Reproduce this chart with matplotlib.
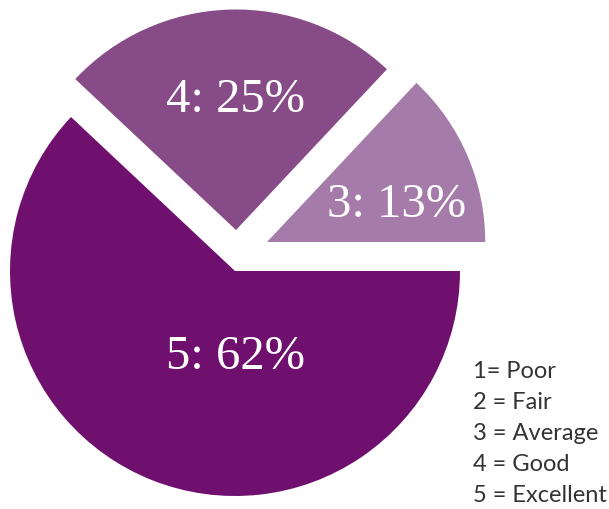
import matplotlib
matplotlib.use("Agg")
import matplotlib.pyplot as plt

# ── data ──────────────────────────────────────────────────────────────────────
ratings = ["3", "4", "5"]
shares = [13, 25, 62]
legend_lines = ["1= Poor", "2 = Fair", "3 = Average", "4 = Good", "5 = Excellent"]

# ── style ─────────────────────────────────────────────────────────────────────
COLORS = ["#a57ba9", "#874b87", "#6f106f"]
CENTER = (235, 238)          # pixel coords, origin bottom-left
RADIUS = 225
SHIFT = [(32, 29), (1, 41), (0, 0)]     # how far each slice is pulled out
SCALE = [0.97, 0.98, 1.0]
LABEL_XY = [(397, 305), (235, 410), (235, 153)]

fig = plt.figure(figsize=(6.09, 5.10), dpi=100)
ax = fig.add_axes([0, 0, 1, 1])

wedges, _ = ax.pie(shares, colors=COLORS, startangle=0, counterclock=True,
                   radius=RADIUS, center=CENTER,
                   wedgeprops=dict(linewidth=0))
for w, (dx, dy), s in zip(wedges, SHIFT, SCALE):
    w.set_center((CENTER[0] + dx, CENTER[1] + dy))
    w.set_radius(RADIUS * s)

for r, v, (x, y) in zip(ratings, shares, LABEL_XY):
    ax.text(x, y, f"{r}: {v}%", ha="center", va="center", color="white",
            fontsize=35, family="Liberation Serif")

for i, line in enumerate(legend_lines):
    ax.text(473, 138 - i * 31, line, ha="left", va="center", color="#333333",
            fontsize=17, family="Lato")

ax.set_xlim(0, 609)
ax.set_ylim(0, 510)
ax.set_aspect("equal")
ax.axis("off")

fig.savefig("out.png", dpi=100, facecolor="white")
